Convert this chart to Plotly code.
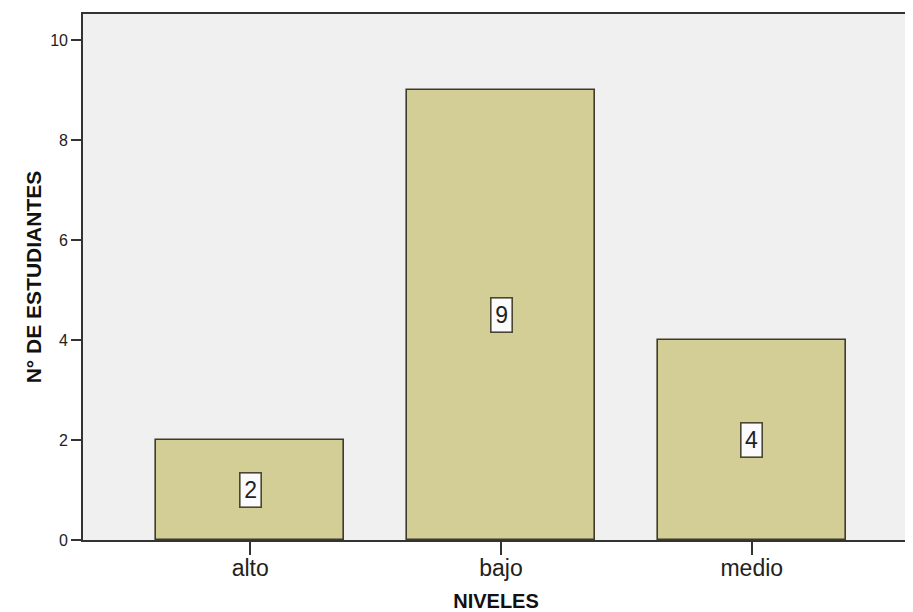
import plotly.graph_objects as go

categories = ["alto", "bajo", "medio"]
counts = [2, 9, 4]
y_ticks = [0, 2, 4, 6, 8, 10]

bar_color = "#d3ce96"
edge_color = "#3f3b2a"
frame_color = "#333333"

fig = go.Figure()
fig.add_trace(go.Bar(
    x=categories, y=counts, width=0.75,
    marker=dict(color=bar_color, line=dict(color=edge_color, width=1.6)),
    hoverinfo="x+y", showlegend=False,
))

for c, v in zip(categories, counts):
    fig.add_annotation(
        x=c, y=v / 2, xref="x", yref="y", text=str(v), showarrow=False,
        font=dict(family="Liberation Sans, Arial, sans-serif", size=23, color="#222222"),
        bgcolor="#fbfbfb", bordercolor="#4a4632", borderwidth=1.6, borderpad=2,
        width=16, height=29, xanchor="center", yanchor="middle",
    )

fig.update_layout(
    width=905, height=604,
    margin=dict(l=75, r=2, t=6, b=67),
    paper_bgcolor="white", plot_bgcolor="#f0f0f0",
    font=dict(family="Liberation Sans, Arial, sans-serif", color="#222222"),
    bargap=0,
)
fig.update_xaxes(
    type="category", range=[-0.667, 2.627],
    showline=True, linecolor=frame_color, linewidth=1.6, mirror=True,
    ticks="outside", ticklen=13, tickcolor=frame_color, tickwidth=1.5,
    ticklabelstandoff=-6,
    tickfont=dict(size=23, color="#222222"), showgrid=False, zeroline=False,
    title=dict(text="<b>NIVELES</b>", font=dict(size=20, color="#111111"), standoff=15),
)
fig.update_yaxes(
    range=[0, 10.52], tickvals=y_ticks, ticktext=[str(t) for t in y_ticks],
    showline=True, linecolor=frame_color, linewidth=1.6, mirror=True,
    ticks="outside", ticklen=10, tickcolor=frame_color, tickwidth=1.5,
    tickfont=dict(size=16, color="#222222"), showgrid=False, zeroline=False,
    title=dict(text="<b>N° DE ESTUDIANTES</b>", font=dict(size=21, color="#111111"), standoff=3),
)

fig.write_html("out.html")
